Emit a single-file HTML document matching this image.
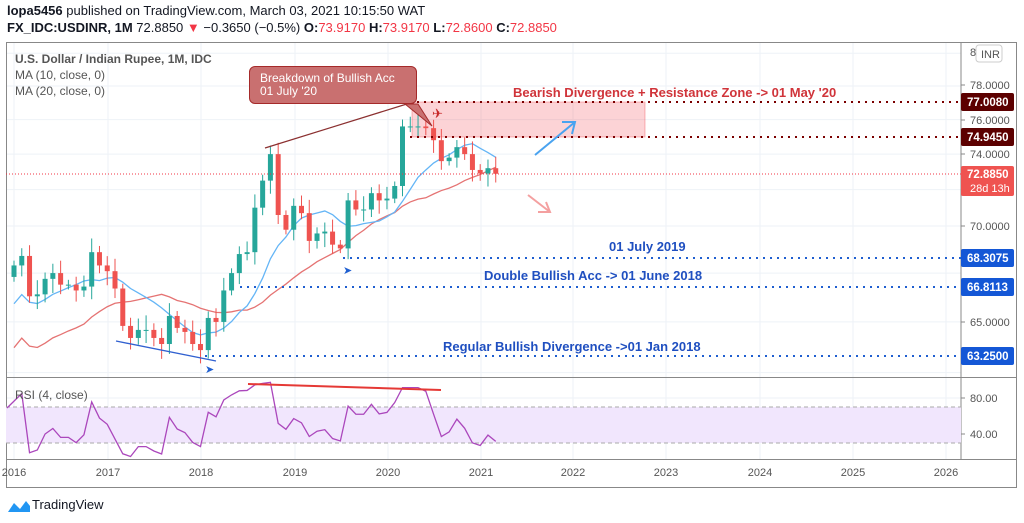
<!DOCTYPE html>
<html><head><meta charset="utf-8"><style>
body{margin:0;background:#fff;width:1024px;height:523px;overflow:hidden;font-family:"Liberation Sans",sans-serif;}
.t{position:absolute;white-space:nowrap}
</style></head><body>
<div class="t" style="left:7px;top:3px;font-size:13px;color:#131722"><b>lopa5456</b> published on TradingView.com, March 03, 2021 10:15:50 WAT</div>
<div class="t" style="left:7px;top:20px;font-size:13px;color:#131722"><b>FX_IDC:USDINR, 1M</b> 72.8850 <span style="color:#f23645">▼</span> −0.3650 (−0.5%) <b>O:</b><span style="color:#f23645">73.9170</span> <b>H:</b><span style="color:#f23645">73.9170</span> <b>L:</b><span style="color:#f23645">72.8600</span> <b>C:</b><span style="color:#f23645">72.8850</span></div>
<svg id="s" width="1024" height="523" style="position:absolute;left:0;top:0"></svg>
<div class="t" style="left:15px;top:52px;font-size:12px;color:#555;font-weight:bold">U.S. Dollar / Indian Rupee, 1M, IDC</div>
<div class="t" style="left:15px;top:68px;font-size:12px;color:#555">MA (10, close, 0)</div>
<div class="t" style="left:15px;top:84px;font-size:12px;color:#555">MA (20, close, 0)</div>
<div class="t" style="left:15px;top:388px;font-size:12px;color:#555">RSI (4, close)</div>
<div class="t" style="left:513px;top:85px;font-size:13px;color:#d0343a;font-weight:bold">Bearish Divergence + Resistance Zone -&gt; 01 May '20</div>
<div class="t" style="left:609px;top:239px;font-size:13px;color:#1f4fc0;font-weight:bold">01 July 2019</div>
<div class="t" style="left:484px;top:268px;font-size:13px;color:#1f4fc0;font-weight:bold">Double Bullish Acc -&gt; 01 June 2018</div>
<div class="t" style="left:443px;top:339px;font-size:13px;color:#1f4fc0;font-weight:bold">Regular Bullish Divergence -&gt;01 Jan 2018</div>
<div class="t" style="left:249px;top:66px;width:168px;height:38px;background:#c97070;border:1.5px solid #a52a2a;border-radius:6px;box-sizing:border-box;padding:5px 0 0 10px;font-size:12px;line-height:13px;color:#fff">Breakdown of Bullish Acc<br>01 July '20</div>
<div class="t" style="left:32px;top:497px;font-size:13px;color:#131722">TradingView</div>
<script>
const S=document.getElementById('s');let h='';
const Y=p=>86+1294*(Math.log(78)-Math.log(p));
const X=m=>14+m*7.77;
const yrs=[14,108,201,295,388,481,573,666,760,853,946];
yrs.forEach(x=>{h+=`<line x1="${x}" y1="43" x2="${x}" y2="459" stroke="#eef2f7"/>`});
[80,78,76,74,72,70,67.5,65,62.5].forEach(p=>{const y=Y(p);if(y>43&&y<377)h+=`<line x1="6" y1="${y}" x2="961" y2="${y}" stroke="#eef2f7"/>`});
[398,434].forEach(y=>h+=`<line x1="6" y1="${y}" x2="961" y2="${y}" stroke="#eef2f7"/>`);
h+=`<rect x="6.5" y="42.5" width="1010" height="445" fill="none" stroke="#888"/>`;
h+=`<line x1="961" y1="42" x2="961" y2="459" stroke="#888"/><line x1="6" y1="377.5" x2="1016" y2="377.5" stroke="#888"/><line x1="6" y1="459.5" x2="1016" y2="459.5" stroke="#888"/>`;
h+=`<rect x="412" y="102" width="233" height="35" fill="rgba(242,54,69,0.22)" stroke="rgba(242,54,69,0.35)"/>`;
const C=[67.9,68.4,66.3,66.4,67.2,67.5,66.9,66.9,66.6,66.8,68.6,67.9,67.6,66.7,64.8,64.2,64.6,64.6,64.2,63.9,65.3,64.7,64.5,63.9,63.6,65.2,65.0,66.6,67.5,68.5,68.6,71.0,72.5,74.0,70.6,69.8,71.1,70.7,69.2,69.6,69.7,69.0,68.8,71.4,70.9,70.9,71.8,71.4,71.5,72.2,75.6,75.6,75.6,75.5,74.8,73.6,73.8,74.4,74.0,73.1,72.9,73.2,72.885];
const O=C.map((c,i)=>i?C[i-1]:67.3);
let ma10=[];for(let i=0;i<C.length;i++){let a=C.slice(Math.max(0,i-9),i+1);let v=a.reduce((s,v)=>s+v,0)/a.length;if(i<9)v=v-(9-i)*0.22;ma10.push(X(i)+','+Y(v))}
let ma20=[];for(let i=0;i<C.length;i++){let a=C.slice(Math.max(0,i-19),i+1);let v=a.reduce((s,v)=>s+v,0)/a.length;if(i<19)v=v-(19-i)*0.22;ma20.push(X(i)+','+Y(v))}
h+=`<polyline points="${ma20.join(' ')}" fill="none" stroke="#e57373" stroke-width="1.3"/>`;
h+=`<polyline points="${ma10.join(' ')}" fill="none" stroke="#64b5f6" stroke-width="1.3"/>`;
C.forEach((c,i)=>{const o=O[i],x=X(i),up=c>=o,col=up?'#26a69a':'#ef5350';const hi=Math.max(o,c)+0.25+((i*37)%7)*0.08,lo=Math.min(o,c)-0.25-((i*53)%7)*0.08;
const y1=Y(Math.max(o,c)),y2=Y(Math.min(o,c));h+=`<line x1="${x}" y1="${Y(hi)}" x2="${x}" y2="${Y(lo)}" stroke="${col}"/><rect x="${x-2.5}" y="${y1}" width="5" height="${Math.max(1,y2-y1)}" fill="${col}"/>`});
h+=`<line x1="6" y1="174" x2="961" y2="174" stroke="#f23645" stroke-dasharray="1,2"/>`;
[[102,410],[137,410]].forEach(a=>h+=`<line x1="${a[1]}" y1="${a[0]}" x2="961" y2="${a[0]}" stroke="#7b0000" stroke-width="2" stroke-dasharray="2,5"/>`);
[[258,343],[287,240],[356,205]].forEach(a=>h+=`<line x1="${a[1]}" y1="${a[0]}" x2="961" y2="${a[0]}" stroke="#1f5fd0" stroke-width="2" stroke-dasharray="2,5"/>`);
h+=`<line x1="265" y1="148" x2="410" y2="103" stroke="#8b3030" stroke-width="1.2"/>`;
h+=`<polygon points="405,104 418,104 432,126" fill="#c97070" stroke="#a52a2a"/>`;
h+=`<line x1="116" y1="341" x2="216" y2="361" stroke="#3060d0" stroke-width="1.3"/>`;
h+=`<path d="M535 155 L575 122 M562 122 L575 122 L572 134" fill="none" stroke="#4aa3f0" stroke-width="2"/>`;
h+=`<path d="M528 195 L550 212 M538 212 L550 212 L546 202" fill="none" stroke="#f4a0a0" stroke-width="2"/>`;
h+=`<text x="432" y="118" font-size="13" fill="#c62828">✈</text><text x="343" y="274" font-size="11" fill="#1f5fd0">➤</text><text x="205" y="373" font-size="11" fill="#1f5fd0">➤</text>`;
h+=`<rect x="6" y="407" width="955" height="36" fill="#f1e6fd"/><line x1="6" y1="407" x2="961" y2="407" stroke="#aaa" stroke-dasharray="4,3"/><line x1="6" y1="443" x2="961" y2="443" stroke="#aaa" stroke-dasharray="4,3"/>`;
let rs=['7,408'],ag=0,al=0;for(let i=1;i<C.length;i++){let d=C[i]-C[i-1],g=Math.max(d,0),l=Math.max(-d,0);if(i<=4){ag+=g/4;al+=l/4}else{ag=(ag*3+g)/4;al=(al*3+l)/4}let r=al==0?85:100-100/(1+ag/al);if(i<4)r=Math.min(r,88);rs.push(X(i)+','+(398+(80-r)*0.9))}
h+=`<polyline points="${rs.join(' ')}" fill="none" stroke="#ab47bc" stroke-width="1.3"/>`;
h+=`<line x1="248" y1="384" x2="441" y2="390" stroke="#e53935" stroke-width="2"/>`;
[[85,'78.0000'],[120,'76.0000'],[154,'74.0000'],[226,'70.0000'],[322,'65.0000'],[398,'80.00'],[434,'40.00']].forEach(a=>h+=`<line x1="961" y1="${a[0]}" x2="965" y2="${a[0]}" stroke="#888"/><text x="970" y="${a[0]+4}" font-size="11" fill="#555">${a[1]}</text>`);
h+=`<text x="970" y="56" font-size="11" fill="#555">8</text><rect x="976" y="45" width="26" height="17" rx="3" fill="#fff" stroke="#ccc"/><text x="981" y="58" font-size="11" fill="#555">INR</text>`;
[[102,'77.0080','#5c0000'],[137,'74.9450','#5c0000'],[258,'68.3075','#1457d6'],[287,'66.8113','#1457d6'],[356,'63.2500','#1457d6']].forEach(a=>h+=`<rect x="961" y="${a[0]-9}" width="53" height="18" rx="2" fill="${a[2]}"/><text x="967" y="${a[0]+4}" font-size="11.5" font-weight="bold" fill="#fff">${a[1]}</text>`);
h+=`<rect x="961" y="166" width="53" height="30" rx="2" fill="#ef5350"/><text x="967" y="178" font-size="11.5" font-weight="bold" fill="#fff">72.8850</text><text x="970" y="192" font-size="11" fill="#fff">28d 13h</text>`;
['2016','2017','2018','2019','2020','2021','2022','2023','2024','2025','2026'].forEach((t,i)=>h+=`<text x="${yrs[i]}" y="476" font-size="11" fill="#555" text-anchor="middle">${t}</text>`);
h+=`<path d="M8 512 L14 503 L20 509 L26 501 L30 506 L30 512 Z" fill="#2196f3"/>`;
S.innerHTML=h;
</script>
</body></html>
